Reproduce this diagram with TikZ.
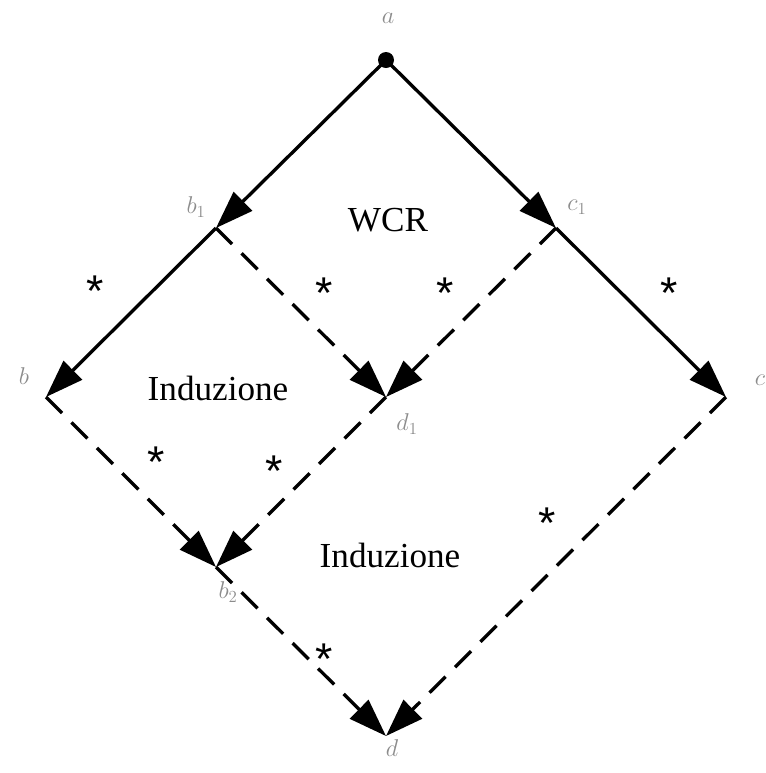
\documentclass[tikz,border=0pt]{standalone}
\usepackage{fontspec}
\setmainfont{Liberation Serif}
\newfontfamily\starfont{Liberation Sans}
\usetikzlibrary{arrows.meta}
\begin{document}
\begin{tikzpicture}[x=0.03cm,y=-0.03cm,
  solidarr/.style={line width=0.1cm,-{Triangle[length=1.14cm,width=0.78cm]}},
  dasharr/.style={solidarr,dash pattern=on 0.68cm off 0.4cm},
  vlabel/.style={text=black!45,font=\fontsize{22}{24}\selectfont},
  reg/.style={font=\fontsize{30}{34}\selectfont},
  star/.style={font=\starfont\fontsize{38}{38}\selectfont,inner sep=0pt,anchor=center}]
\useasboundingbox (0,0) rectangle (766,773);
\coordinate (a) at (386,60);
\coordinate (b1) at (216,228);
\coordinate (c1) at (556,228);
\coordinate (b) at (46,397);
\coordinate (d1) at (386,397);
\coordinate (c) at (726,397);
\coordinate (b2) at (216,567);
\coordinate (d) at (386,736);
\fill (a) circle (0.24cm);
\draw[solidarr] (a) -- (b1);
\draw[solidarr] (a) -- (c1);
\draw[solidarr] (b1) -- (b);
\draw[solidarr] (c1) -- (c);
\draw[dasharr] (b1) -- (d1);
\draw[dasharr] (c1) -- (d1);
\draw[dasharr] (b) -- (b2);
\draw[dasharr] (d1) -- (b2);
\draw[dasharr] (b2) -- (d);
\draw[dasharr] (c) -- (d);
\node[vlabel] (la) at (388,18) {$a$};
\node[vlabel] (lb1) at (196,207) {$b_1$};
\node[vlabel] (lc1) at (577,207) {$c_1$};
\node[vlabel] (lb) at (24,376) {$b$};
\node[vlabel] (ld1) at (407,424) {$d_1$};
\node[vlabel] (lc) at (760,380) {$c$};
\node[vlabel] (lb2) at (228,592) {$b_2$};
\node[vlabel] (ld) at (392,748) {$d$};
\node[reg] (wcr) at (388,220) {WCR};
\node[reg] (ind1) at (218,388) {Induzione};
\node[reg] (ind2) at (390,555) {Induzione};
\node[star] (s1) at (95,291) {*};
\node[star] (s2) at (324,293) {*};
\node[star] (s3) at (445,293) {*};
\node[star] (s4) at (669,293) {*};
\node[star] (s5) at (156,462) {*};
\node[star] (s6) at (274,471) {*};
\node[star] (s7) at (547,523) {*};
\node[star] (s8) at (324,659) {*};
\end{tikzpicture}
\end{document}
